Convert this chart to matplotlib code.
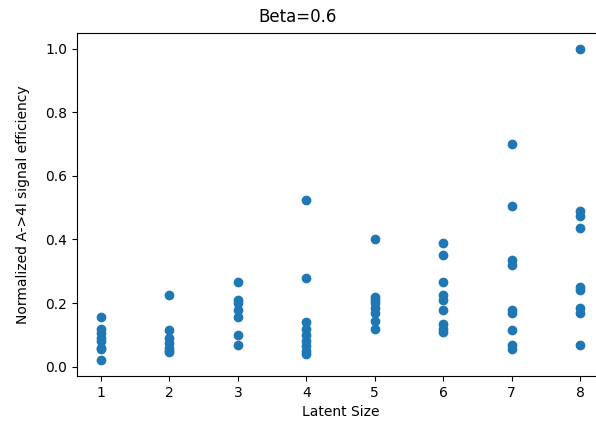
import matplotlib
matplotlib.use('Agg')
import matplotlib.pyplot as plt

latent_1 = [0.155, 0.12, 0.105, 0.09, 0.08, 0.06, 0.055, 0.02]
latent_2 = [0.225, 0.115, 0.09, 0.075, 0.06, 0.05, 0.045]
latent_3 = [0.265, 0.21, 0.2, 0.18, 0.155, 0.1, 0.07]
latent_4 = [0.525, 0.28, 0.14, 0.12, 0.1, 0.08, 0.065, 0.05, 0.04]
latent_5 = [0.40, 0.22, 0.21, 0.20, 0.185, 0.17, 0.145, 0.12]
latent_6 = [0.39, 0.35, 0.265, 0.225, 0.21, 0.18, 0.135, 0.12, 0.11]
latent_7 = [0.70, 0.505, 0.335, 0.32, 0.18, 0.17, 0.115, 0.07, 0.055]
latent_8 = [1.0, 0.49, 0.475, 0.435, 0.25, 0.24, 0.185, 0.17, 0.07]

Groups = [latent_1, latent_2, latent_3, latent_4,
          latent_5, latent_6, latent_7, latent_8]

X = list()
Y = list()
for size, vals in enumerate(Groups, start=1):
    for v in vals:
        X.append(size)
        Y.append(v)

fig = plt.figure(figsize=(5.96, 4.24), dpi=100)
# axes run past the right edge, like the cropped original
graph = fig.add_axes([77 / 596, 48 / 424, 527 / 596, 343 / 424])
graph.scatter(X, Y)

fig.suptitle('Beta=0.6', fontsize=12, y=0.982)
graph.set_xlabel('Latent Size')
graph.set_ylabel('Normalized A->4l signal efficiency', labelpad=11)

plt.savefig('out.png', dpi=100)
